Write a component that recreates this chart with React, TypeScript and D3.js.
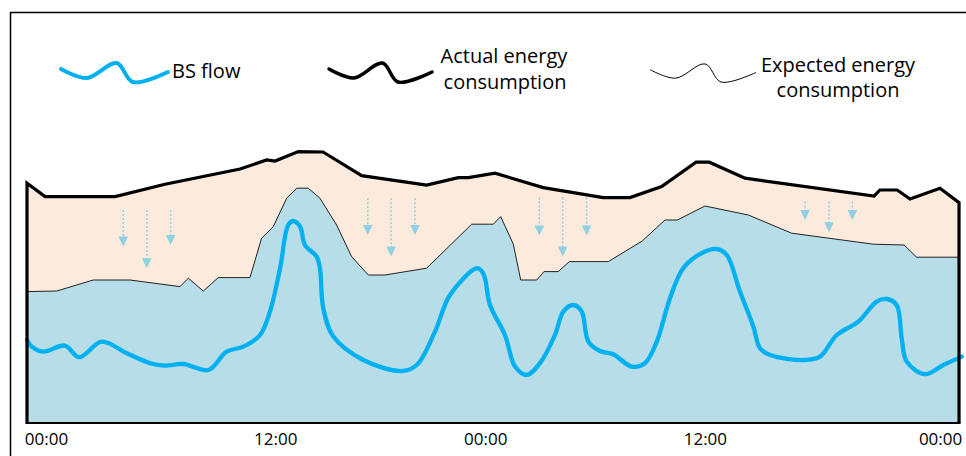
import React from "react";
import * as d3 from "d3";

// ---- data (x in hours over two days, y in arbitrary energy/flow units) ----
const actualEnergy: [number, number][] = [
  [0, 119.9], [0.93, 113.2], [4.53, 113.2], [7.1, 119.4], [10.96, 127], [12.33, 131.5],
  [12.76, 131], [13.96, 135.7], [15.23, 135.5], [17.22, 123.7], [20.56, 119], [22.19, 122.7],
  [22.7, 122.7], [24.08, 124.9], [26.56, 117.7], [29.65, 112.7], [31.02, 112.7], [32.65, 118.2],
  [34.42, 130.4], [35.1, 130.4], [36.94, 122.4], [43.58, 113.5], [43.88, 116.5], [44.77, 116.5],
  [45.43, 112], [46.97, 117.4], [47.95, 110.2],
];

const expectedEnergy: [number, number][] = [
  [0, 65.7], [1.53, 66], [3.41, 71.5], [5.3, 71.5], [7.87, 68.2], [8.3, 72.4], [9.07, 66],
  [9.84, 72.7], [11.47, 72.7], [12.07, 92.4], [12.67, 98.2], [13.36, 112.4], [13.88, 117.4],
  [14.47, 117.4], [15.07, 112.4], [15.93, 99], [16.7, 83.2], [17.56, 74], [18.42, 74],
  [20.56, 77.4], [22.88, 99.4], [23.99, 99.4], [24.37, 103.2], [25.02, 89.4], [25.4, 71.5],
  [26.22, 71.5], [26.6, 75.7], [27.33, 75.7], [27.9, 80.7], [29.91, 80.7], [31.65, 91],
  [32.82, 101.5], [33.46, 101.5], [34.88, 108.5], [37.11, 104], [39.34, 94.9], [43.54, 89.4],
  [45.12, 89], [45.77, 82.9], [48, 82.9],
];

const bsFlow: [number, number][] = [
  [0, 41.5], [0.24, 38.2], [0.84, 35.7], [1.95, 38.7], [2.69, 32.9], [3.84, 40.7], [5.13, 34.9],
  [6.33, 29.9], [7.1, 28.7], [8.04, 29.5], [9.33, 26.5], [10.27, 35.7], [11.13, 38.2], [11.99, 44],
  [12.5, 55.7], [13.02, 77.4], [13.44, 99], [13.7, 101], [14.05, 98.2], [14.3, 89], [14.9, 83.2],
  [15.07, 77.5], [15.24, 57.5], [15.76, 43.2], [17.3, 31.5], [19.28, 26], [20.05, 29], [20.99, 45.7],
  [21.76, 64], [23.14, 77.4], [23.39, 76], [23.56, 72.4], [23.82, 59], [24.59, 44], [25.11, 28.2],
  [25.71, 24], [26.39, 29.9], [27.16, 44], [27.59, 55.7], [28.11, 59], [28.54, 55.7], [28.88, 40.7],
  [29.48, 36], [30.16, 34.4], [31.11, 28.2], [31.79, 29.9], [32.4, 40.7], [33.08, 62.4], [33.76, 77.4],
  [34.71, 84.9], [35.48, 87], [36.0, 84], [36.68, 65.7], [37.37, 48.2], [37.71, 37.4], [38.23, 34],
  [40.03, 31.5], [40.8, 33.2], [41.66, 44], [42.77, 50.7], [43.71, 60.7], [44.23, 62], [44.74, 59],
  [45.0, 42.4], [45.26, 30.7], [46.2, 24.4], [47.14, 29], [48.09, 33.2],
];

// arrows: [hour, top value, tip value]
const arrows: [number, number, number][] = [
  [4.95, 106.5, 88.2], [6.16, 106.5, 77.4], [7.39, 106.5, 89],
  [17.53, 112.4, 94], [18.73, 112.4, 83.2], [19.96, 112.4, 94],
  [26.36, 112.7, 93.7], [27.56, 112.7, 83.2], [28.79, 112.7, 93.7],
  [40.03, 110.7, 101.5], [41.26, 110.7, 95.4], [42.46, 110.7, 101.5],
];

const tickLabels = ["00:00", "12:00", "00:00", "12:00", "00:00"];
const tickHours = [1.0, 12.8, 23.6, 34.9, 47.0];

// legend squiggle template (normalized)
const squiggle: [number, number][] = [[0, 0.35], [0.24, 0.8], [0.52, 0.05], [0.67, 1], [1, 0.5]];
const legendItems = [
  { key: "bs", lines: ["BS flow"] },
  { key: "actual", lines: ["Actual energy", "consumption"] },
  { key: "expected", lines: ["Expected energy", "consumption"] },
];

const W = 966;
const H = 456;
const FONT = "'Open Sans', 'Noto Sans', sans-serif";
const BLUE_FILL = "#b7dde8";
const PEACH = "#fceadd";
const CYAN = "#00b0f0";
const ARROW = "#8fd0e2";

export default function App() {
  const x = d3.scaleLinear().domain([0, 48]).range([27, 960]);
  const y = d3.scaleLinear().domain([0, 140]).range([423, 143]);

  const area = d3
    .area<[number, number]>()
    .x((d) => x(d[0]))
    .y0(y(0))
    .y1((d) => y(d[1]));
  const line = d3
    .line<[number, number]>()
    .x((d) => x(d[0]))
    .y((d) => y(d[1]));
  const smooth = d3
    .line<[number, number]>()
    .x((d) => x(d[0]))
    .y((d) => y(d[1]))
    .curve(d3.curveCatmullRom.alpha(0.5));

  const actualFull: [number, number][] = [
    [0, 0],
    ...actualEnergy,
    [actualEnergy[actualEnergy.length - 1][0], 0],
  ];

  const legendGlyph = (x0: number, x1: number, y0: number, y1: number) => {
    const lx = d3.scaleLinear().domain([0, 1]).range([x0, x1]);
    const ly = d3.scaleLinear().domain([0, 1]).range([y0, y1]);
    return d3
      .line<[number, number]>()
      .x((d) => lx(d[0]))
      .y((d) => ly(d[1]))
      .curve(d3.curveCatmullRom.alpha(0.5))(squiggle) as string;
  };

  return (
    <svg
      width={W}
      height={H}
      style={{ position: "absolute", left: 0, top: 0, background: "#fff" }}
      fontFamily={FONT}
    >
      {/* frame */}
      <path d={`M10.5,${H} V12.5 H${W}`} fill="none" stroke="#000" strokeWidth={1.5} />

      {/* peach area under actual energy */}
      <path d={area(actualEnergy) as string} fill={PEACH} />
      {/* blue area under expected energy */}
      <path d={area(expectedEnergy) as string} fill={BLUE_FILL} />
      <path d={line(expectedEnergy) as string} fill="none" stroke="#222" strokeWidth={1} />

      {/* arrows */}
      {arrows.map(([h, top, tip], i) => {
        const ax = x(h);
        const ty = y(tip);
        return (
          <g key={i}>
            <line
              x1={ax}
              x2={ax}
              y1={y(top)}
              y2={ty - 9}
              stroke={ARROW}
              strokeWidth={1.5}
              strokeDasharray="2,2"
            />
            <path d={`M${ax - 4.8},${ty - 10} L${ax + 4.8},${ty - 10} L${ax},${ty} Z`} fill={ARROW} />
          </g>
        );
      })}

      {/* BS flow */}
      <path
        d={smooth(bsFlow) as string}
        fill="none"
        stroke={CYAN}
        strokeWidth={4.3}
        strokeLinecap="round"
        strokeLinejoin="round"
      />

      {/* actual energy outline with side edges */}
      <path
        d={line(actualFull) as string}
        fill="none"
        stroke="#000"
        strokeWidth={3.2}
        strokeLinejoin="miter"
      />
      {/* bottom axis */}
      <line x1={x(0) - 1.5} x2={x(47.95) + 1.5} y1={y(0)} y2={y(0)} stroke="#000" strokeWidth={2.2} />

      {/* tick labels */}
      {tickLabels.map((t, i) => (
        <text key={i} x={x(tickHours[i])} y={445} fontSize={17} textAnchor="middle" fill="#000">
          {t}
        </text>
      ))}

      {/* legend */}
      <path d={legendGlyph(61, 168, 62, 82)} fill="none" stroke={CYAN} strokeWidth={4} strokeLinecap="round" />
      <text x={172} y={78} fontSize={20} fill="#000">
        {legendItems[0].lines[0]}
      </text>

      <path d={legendGlyph(329, 432, 62, 82)} fill="none" stroke="#000" strokeWidth={3.5} strokeLinecap="round" />
      <text x={504} y={63} fontSize={20} textAnchor="middle" fill="#000">
        {legendItems[1].lines[0]}
      </text>
      <text x={505} y={89} fontSize={20} textAnchor="middle" fill="#000">
        {legendItems[1].lines[1]}
      </text>

      <path d={legendGlyph(650, 756, 63, 82)} fill="none" stroke="#000" strokeWidth={1} />
      <text x={838} y={72} fontSize={20} textAnchor="middle" fill="#000">
        {legendItems[2].lines[0]}
      </text>
      <text x={838} y={97} fontSize={20} textAnchor="middle" fill="#000">
        {legendItems[2].lines[1]}
      </text>
    </svg>
  );
}
